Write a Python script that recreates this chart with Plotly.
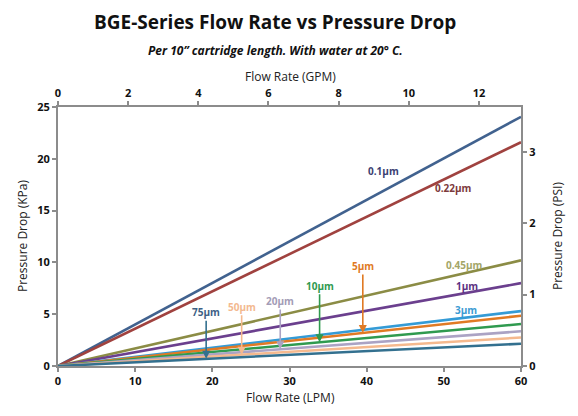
import plotly.graph_objects as go

# Data (pressure drop in kPa at 0 and 60 LPM)
flow_lpm = [0, 60]
ratings = ["0.1µm", "0.22µm", "0.45µm", "1µm", "3µm", "5µm", "10µm", "20µm", "50µm", "75µm"]
dp_kpa = {
    "0.1µm": [0, 24.05],
    "0.22µm": [0, 21.6],
    "0.45µm": [0, 10.2],
    "1µm": [0, 8.0],
    "3µm": [0, 5.3],
    "5µm": [0, 4.85],
    "10µm": [0, 4.05],
    "20µm": [0, 3.35],
    "50µm": [0, 2.75],
    "75µm": [0, 2.15],
}
line_colors = {
    "0.1µm": "#41628f",
    "0.22µm": "#a0423f",
    "0.45µm": "#8b8c45",
    "1µm": "#6b3f8e",
    "3µm": "#349bd6",
    "5µm": "#e07a24",
    "10µm": "#2f9a4f",
    "20µm": "#aba3c4",
    "50µm": "#f5b98e",
    "75µm": "#33708f",
}
label_colors = {
    "0.1µm": "#3b3f72",
    "0.22µm": "#7d3a3c",
    "0.45µm": "#a3a567",
    "1µm": "#5c3282",
    "3µm": "#3b9bd3",
    "5µm": "#e07a24",
    "10µm": "#2f9a4f",
    "20µm": "#a39cb6",
    "50µm": "#f3b98f",
    "75µm": "#3d5f85",
}
# label positions (LPM, kPa) for plain labels
plain_labels = {
    "0.1µm": (42.2, 18.8),
    "0.22µm": (51.3, 17.2),
    "0.45µm": (52.7, 9.75),
    "1µm": (53.0, 7.7),
    "3µm": (52.9, 5.4),
}
# arrow labels: label position and flow at arrow tip
arrow_labels = {
    "5µm": (39.4, 9.65, 39.5),
    "10µm": (33.6, 7.75, 33.9),
    "20µm": (28.6, 6.27, 28.8),
    "50µm": (23.7, 5.72, 23.8),
    "75µm": (19.35, 5.18, 19.2),
}

KPA_PER_PSI = 6.895
LPM_PER_GPM = 4.546

fig = go.Figure()
for r in ratings:
    fig.add_trace(go.Scatter(x=flow_lpm, y=dp_kpa[r], mode="lines",
                             line=dict(color=line_colors[r], width=2.6),
                             name=r, showlegend=False, hoverinfo="skip"))
# invisible traces to activate secondary axes
fig.add_trace(go.Scatter(x=[0], y=[0], xaxis="x2", yaxis="y", mode="markers",
                         marker=dict(opacity=0), showlegend=False, hoverinfo="skip"))
fig.add_trace(go.Scatter(x=[0], y=[0], xaxis="x", yaxis="y2", mode="markers",
                         marker=dict(opacity=0), showlegend=False, hoverinfo="skip"))

lab_font = "Open Sans"
ann = []
for r, (x, y) in plain_labels.items():
    ann.append(dict(x=x, y=y, xref="x", yref="y", text="<b>%s</b>" % r, showarrow=False,
                    font=dict(family=lab_font, size=10, color=label_colors[r])))
for r, (lx, ly, tx) in arrow_labels.items():
    ty = dp_kpa[r][1] * tx / flow_lpm[1]
    ann.append(dict(x=tx, y=ty, xref="x", yref="y", ax=tx, ay=ly, axref="x", ayref="y",
                    text="<b>%s</b>" % r, showarrow=True, arrowhead=2, arrowsize=1,
                    arrowwidth=1.6, arrowcolor=line_colors[r], standoff=0,
                    font=dict(family=lab_font, size=10, color=label_colors[r])))

axis_font = dict(family="Open Sans", size=12, color="#222222")
ann += [
    dict(text="<b>BGE-Series Flow Rate vs Pressure Drop</b>", x=275, y=22, xref="paper", yref="paper",
         showarrow=False, font=dict(family="Open Sans", size=19, color="#111111")),
    dict(text="<b><i>Per 10” cartridge length. With water at 20° C.</i></b>", x=275, y=50,
         showarrow=False, font=dict(family="Open Sans", size=12, color="#111111")),
    dict(text="Flow Rate (GPM)", x=290, y=76, showarrow=False, font=axis_font),
    dict(text="Flow Rate (LPM)", x=290, y=397, showarrow=False, font=axis_font),
    dict(text="Pressure Drop (KPa)", x=22, y=236, textangle=-90, showarrow=False, font=axis_font),
    dict(text="Pressure Drop (PSI)", x=557, y=236, textangle=-90, showarrow=False, font=axis_font),
]
# convert pixel positions for paper annotations
L, R, T, B = 58, 57, 107, 50
W, H = 578, 416
pw, ph = W - L - R, H - T - B
for a in ann[-6:]:
    a["x"] = (a["x"] - L) / pw
    a["y"] = (H - B - a["y"]) / ph
    a["xref"] = "paper"
    a["yref"] = "paper"
    a["xanchor"] = "center"
    a["yanchor"] = "middle"

tick_font = dict(family="Open Sans", size=11, color="#111111")
axcommon = dict(showgrid=False, zeroline=False, showline=True, linecolor="#8c8c8c", linewidth=2,
                ticks="outside", tickcolor="#8c8c8c", ticklen=4, tickwidth=1.5,
                tickfont=tick_font, tickprefix="<b>", ticksuffix="</b>", fixedrange=True)

fig.update_layout(
    width=W, height=H, margin=dict(l=L, r=R, t=T, b=B),
    paper_bgcolor="white", plot_bgcolor="white",
    xaxis=dict(range=[0, 60], dtick=10, **axcommon),
    xaxis2=dict(range=[0, flow_lpm[1] / LPM_PER_GPM], dtick=2, overlaying="x", side="top", **axcommon),
    yaxis=dict(range=[0, 25], dtick=5, **axcommon),
    yaxis2=dict(range=[0, 25 / KPA_PER_PSI], dtick=1, overlaying="y", side="right", **axcommon),
    annotations=ann,
)
fig.write_html("out.html")
